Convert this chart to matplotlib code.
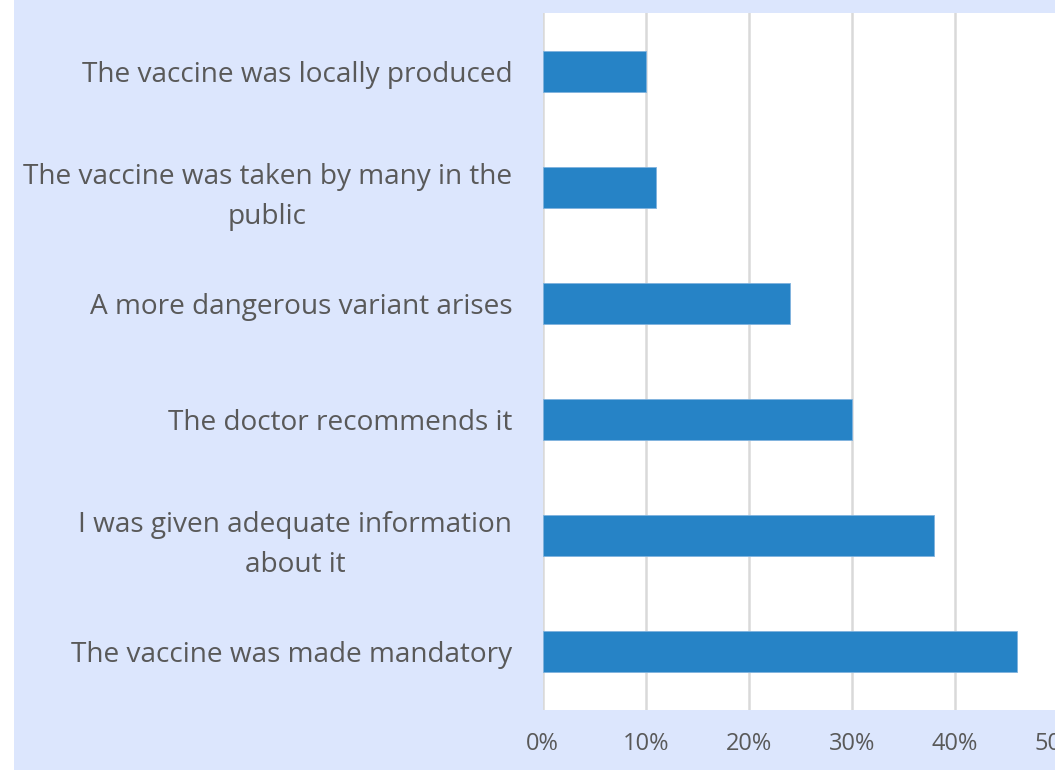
import matplotlib.pyplot as plt
from matplotlib.patches import Rectangle
from matplotlib.ticker import PercentFormatter

categories = [
    "The vaccine was made mandatory",
    "I was given adequate information\nabout it",
    "The doctor recommends it",
    "A more dangerous variant arises",
    "The vaccine was taken by many in the\npublic",
    "The vaccine was locally produced",
]
values = [46, 38, 30, 24, 11, 10]
x_ticks = [0, 10, 20, 30, 40, 50]

bar_color = "#2683C6"
text_color = "#595959"
grid_color = "#D9D9D9"
bg_color = "#DCE6FD"

fig = plt.figure(figsize=(10.55, 7.7), dpi=100)
fig.patch.set_facecolor("white")
fig.patches.append(Rectangle((14 / 1055, 0), 1, 1, transform=fig.transFigure,
                             facecolor=bg_color, edgecolor="none", zorder=-10))

ax = fig.add_axes([542.7 / 1055, 1 - 710 / 770, 515.3 / 1055, 697 / 770])
ax.set_zorder(5)
ax.set_facecolor("white")

y = range(len(categories))
ax.barh(y, values, height=0.353, color=bar_color, edgecolor="#7FB2DE",
        linewidth=0.6, zorder=3)

ax.set_xlim(0, 50)
ax.set_ylim(-0.5, len(categories) - 0.5)
ax.set_xticks(x_ticks)
ax.xaxis.set_major_formatter(PercentFormatter(decimals=0))
ax.set_yticks(list(y))
ax.set_yticklabels(categories)

for lab in ax.get_yticklabels():
    lab.set_multialignment("center")
    lab.set_linespacing(1.58)

ax.tick_params(axis="y", length=0, pad=22, labelsize=20.2, labelcolor=text_color)
ax.tick_params(axis="x", length=0, pad=16, labelsize=17, labelcolor=text_color)
for lab in ax.get_xticklabels() + ax.get_yticklabels():
    lab.set_fontfamily("Open Sans")

ax.grid(axis="x", color=grid_color, linewidth=1.8, zorder=1)
ax.set_axisbelow(True)
for s in ax.spines.values():
    s.set_visible(False)

fig.savefig("out.png", dpi=100, facecolor=fig.get_facecolor())
